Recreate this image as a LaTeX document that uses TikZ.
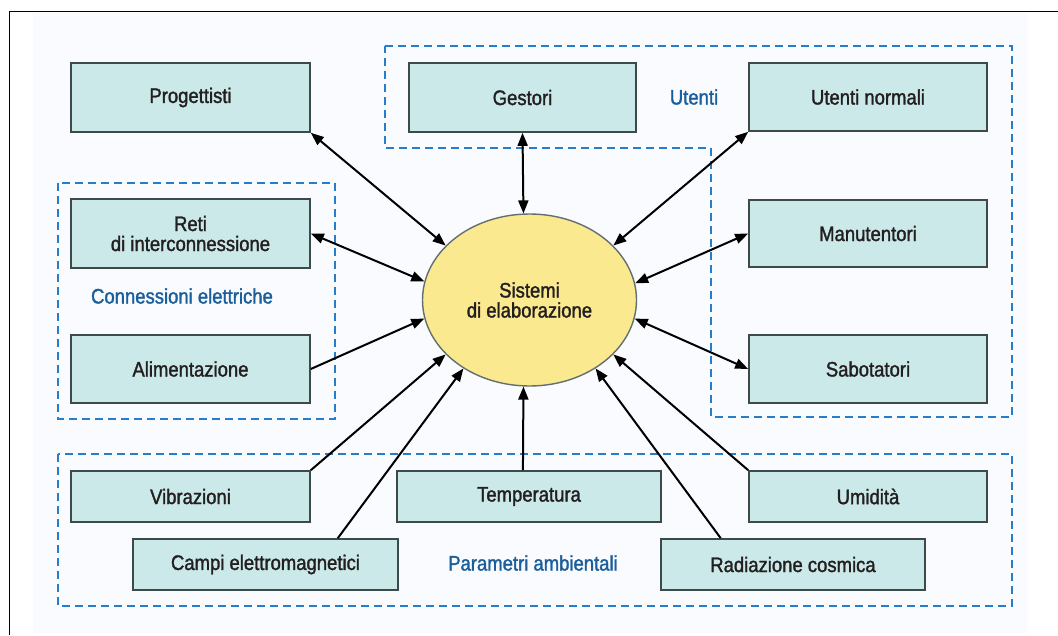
\documentclass[tikz,border=0pt]{standalone}
\usepackage{fontspec}
\setmainfont{Liberation Sans}[FakeStretch=0.88,FakeBold=1.5]
\usetikzlibrary{arrows.meta,shapes.geometric}
\definecolor{boxfill}{RGB}{204,233,234}
\definecolor{boxline}{RGB}{60,74,74}
\definecolor{sunny}{RGB}{250,233,143}
\definecolor{dashblue}{RGB}{40,125,200}
\definecolor{labelblue}{RGB}{27,94,156}
\definecolor{panel}{RGB}{250,251,254}
\definecolor{ink}{RGB}{35,31,32}

\begin{document}
\begin{tikzpicture}[x=1pt,y=-1pt,font=\fontsize{21}{20}\selectfont,
    block/.style={fill=boxfill,draw=boxline,line width=1.6pt,text=ink,align=center,inner sep=0pt},
    group/.style={draw=dashblue,line width=2pt,dash pattern=on 8pt off 5pt},
    grouplabel/.style={text=labelblue},
    oneway/.style={line width=2pt,-{Triangle[length=13pt,width=10pt]}},
    twoway/.style={line width=2pt,{Triangle[length=13pt,width=10pt]}-{Triangle[length=13pt,width=10pt]}}]
  \useasboundingbox (0,0) rectangle (1058,635);
  \fill[panel] (33,13) rectangle (1027,633);
  \draw[line width=1pt] (1058,11) -- (9,11) -- (9,635);

  \draw[group] (385,46) -- (1012,46) -- (1012,417) -- (711,417) -- (711,148) -- (385,148) -- cycle;
  \draw[group] (58,183) rectangle (335,419);
  \draw[group] (58,454) rectangle (1012,606);

  \node[block,minimum width=239,minimum height=69] (prog) at (190.5,97.5) {Progettisti};
  \node[block,minimum width=227,minimum height=69] (gest) at (522.5,97.5) {Gestori};
  \node[block,minimum width=238,minimum height=68] (utenti) at (868,97) {Utenti normali};
  \node[block,minimum width=239,minimum height=69] (reti) at (190.5,233.5) {Reti\\di interconnessione};
  \node[block,minimum width=238,minimum height=67] (manut) at (868,233.5) {Manutentori};
  \node[block,minimum width=239,minimum height=68] (alim) at (190.5,369) {Alimentazione};
  \node[block,minimum width=238,minimum height=68] (sabot) at (868,369) {Sabotatori};
  \node[block,minimum width=239,minimum height=51] (vibr) at (190.5,496.5) {Vibrazioni};
  \node[block,minimum width=265,minimum height=51] (campi) at (265.5,564.5) {Campi elettromagnetici};
  \node[block,minimum width=264,minimum height=51] (temp) at (529,496.5) {Temperatura};
  \node[block,minimum width=238,minimum height=51] (umid) at (868,496.5) {Umidità};
  \node[block,minimum width=264,minimum height=51] (radiaz) at (793,564.5) {Radiazione cosmica};

  \node[grouplabel] (lbluser) at (694,97) {Utenti};
  \node[grouplabel] (lblconn) at (182,296) {Connessioni elettriche};
  \node[grouplabel] (lblenv) at (533,563) {Parametri ambientali};

  \node[ellipse,fill=sunny,draw=boxline!80,line width=1.4pt,text=ink,align=center,
    minimum width=214,minimum height=172,inner sep=0pt] (sys) at (529.5,300) {Sistemi\\di elaborazione};

  \foreach \a/\b in {prog.south east/sys.147, gest.south/sys.94, utenti.south west/sys.33,
      reti.east/sys.170, manut.west/sys.9.5, sabot.west/sys.-10.5}
    \draw[twoway] (\a) -- (\b);
  \foreach \a/\b in {alim.east/sys.190.5, vibr.north east/sys.213, campi.20/sys.226,
      temp.103/sys.266, umid.north west/sys.327, radiaz.160/sys.314}
    \draw[oneway] (\a) -- (\b);
\end{tikzpicture}
\end{document}
